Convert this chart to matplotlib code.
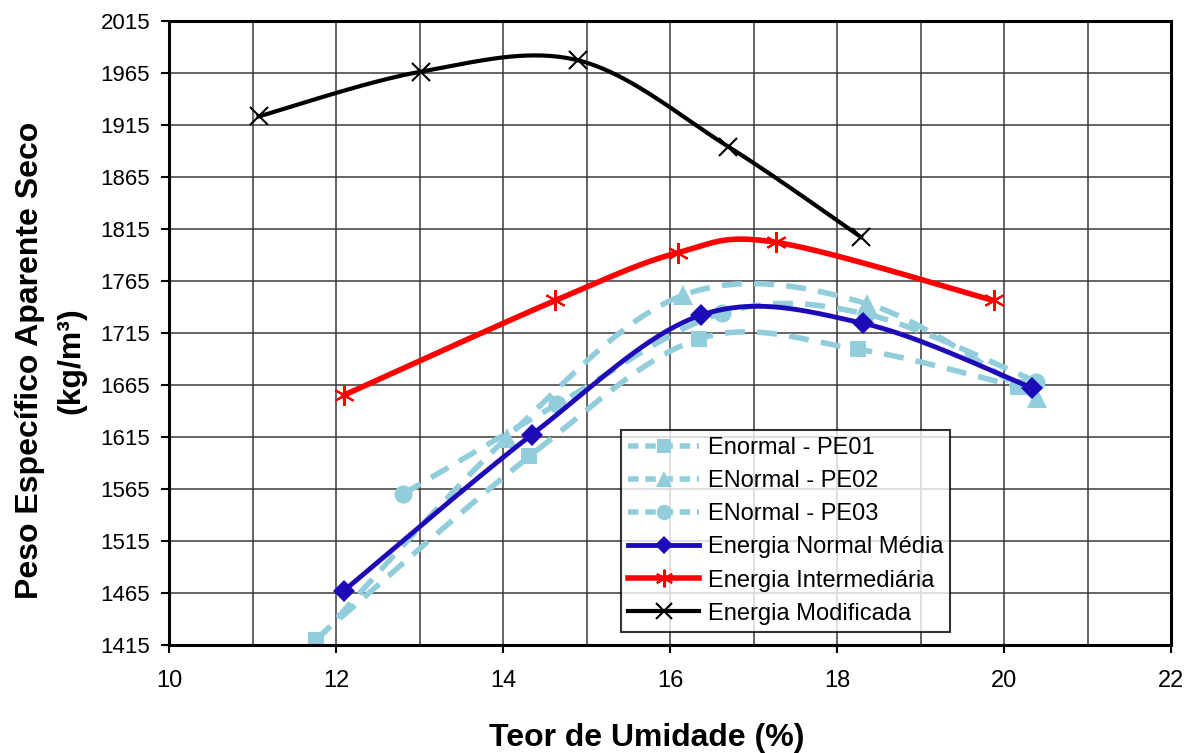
import numpy as np
import matplotlib
matplotlib.use("Agg")
import matplotlib.pyplot as plt
from matplotlib.lines import Line2D
from matplotlib.ticker import MultipleLocator, FixedLocator

plt.rcParams['font.family'] = ['Liberation Sans', 'DejaVu Sans']

# ---------------- data ----------------
x_pe01 = [11.75, 14.31, 16.34, 18.25, 20.16]
y_pe01 = [1420, 1596, 1709, 1699, 1663]
x_pe02 = [11.75, 14.04, 16.15, 18.35, 20.39]
y_pe02 = [1418, 1614, 1751, 1743, 1652]
x_pe03 = [12.80, 14.64, 16.62, 18.34, 20.38]
y_pe03 = [1560, 1646, 1734, 1733, 1668]
x_med = [12.09, 14.34, 16.37, 18.31, 20.33]
y_med = [1467, 1617, 1732, 1724, 1662]
x_int = [12.09, 14.62, 16.09, 17.26, 19.87]
y_int = [1655, 1746, 1792, 1802, 1746]
x_mod = [11.07, 13.01, 14.89, 16.69, 18.28]
y_mod = [1923, 1966, 1977, 1894, 1807]

labels = ["Enormal - PE01", "ENormal - PE02", "ENormal - PE03",
          "Energia Normal Média", "Energia Intermediária", "Energia Modificada"]
x_ticks = [10, 12, 14, 16, 18, 20, 22]
y_ticks = [1415, 1465, 1515, 1565, 1615, 1665, 1715, 1765, 1815, 1865, 1915, 1965, 2015]


def smooth(x, y, n=40):
    P = np.column_stack([x, y]).astype(float)
    E = np.vstack([P[0], P, P[-1]])
    out = []
    t = np.linspace(0, 1, n)[:, None]
    for i in range(len(P) - 1):
        p0, p1, p2, p3 = E[i], E[i + 1], E[i + 2], E[i + 3]
        c1 = p1 + (p2 - p0) / 6.0
        c2 = p2 - (p3 - p1) / 6.0
        seg = ((1 - t) ** 3) * p1 + 3 * ((1 - t) ** 2) * t * c1 + 3 * (1 - t) * t ** 2 * c2 + t ** 3 * p2
        out.append(seg if i == 0 else seg[1:])
    S = np.vstack(out)
    return S[:, 0], S[:, 1]


fig = plt.figure(figsize=(11.96, 7.53), dpi=100)
ax = fig.add_axes([0.1417, 0.1438, 0.9795 - 0.1417, 0.9725 - 0.1438])

light = '#92CDDC'
blue = '#1E0BB8'
red = '#FF0000'

series = [
    dict(x=x_pe01, y=y_pe01, color=light, ls='--', lw=4.0, marker='s', ms=12, mew=0, z=3),
    dict(x=x_pe02, y=y_pe02, color=light, ls='--', lw=4.0, marker='^', ms=14, mew=0, z=3),
    dict(x=x_pe03, y=y_pe03, color=light, ls='--', lw=4.0, marker='o', ms=13, mew=0, z=3),
    dict(x=x_med, y=y_med, color=blue, ls='-', lw=3.5, marker='D', ms=11, mew=0, z=4),
    dict(x=x_int, y=y_int, color=red, ls='-', lw=4.0, marker=(6, 2, 0), ms=15, mew=1.5, z=5),
    dict(x=x_mod, y=y_mod, color='black', ls='-', lw=3.0, marker='x', ms=13, mew=1.5, z=6),
]

handles = []
for s, lab in zip(series, labels):
    sx, sy = smooth(s['x'], s['y'])
    kw = dict(color=s['color'], lw=s['lw'], ls=s['ls'], zorder=s['z'])
    if s['ls'] == '--':
        kw['dashes'] = (3.6, 2.2)
    ax.plot(sx, sy, **kw)
    ax.plot(s['x'], s['y'], ls='none', marker=s['marker'], ms=s['ms'],
            color=s['color'], mec=s['color'], mew=s['mew'], zorder=s['z'] + 0.5)
    h = Line2D([0], [0], color=s['color'], lw=s['lw'], ls=s['ls'], marker=s['marker'],
               ms=s['ms'] * 0.85, mec=s['color'], mew=s['mew'])
    if s['ls'] == '--':
        h.set_dashes((1.9, 1.2))
    handles.append(h)

ax.set_xlim(10, 22)
ax.set_ylim(1415, 2015)
ax.xaxis.set_major_locator(FixedLocator(x_ticks))
ax.xaxis.set_minor_locator(MultipleLocator(1))
ax.yaxis.set_major_locator(FixedLocator(y_ticks))
ax.grid(True, which='major', color='#3a3a3a', lw=1.1, zorder=1)
ax.grid(True, which='minor', axis='x', color='#3a3a3a', lw=1.1, zorder=1)
ax.set_axisbelow(True)

for sp in ax.spines.values():
    sp.set_linewidth(2.2)
    sp.set_zorder(7)

ax.tick_params(axis='both', which='major', direction='out', length=6, width=1.5)
ax.tick_params(axis='x', which='minor', length=0)
ax.tick_params(axis='y', pad=8, labelsize=16)
ax.tick_params(axis='x', pad=12, labelsize=17)

ax.set_xlabel("Teor de Umidade (%)", fontsize=23, fontweight='bold')
ax.xaxis.set_label_coords(0.4765, -0.126)
ax.set_ylabel("Peso Específico Aparente Seco\n(kg/m³)", fontsize=23, fontweight='bold',
              linespacing=1.5)
ax.yaxis.set_label_coords(-0.083, 0.455)

leg = ax.legend(handles, labels, loc='upper left', bbox_to_anchor=(0.451, 0.344),
                fontsize=17, frameon=True, fancybox=False, edgecolor='black',
                borderpad=0.3, labelspacing=0.47, handlelength=3.0, handletextpad=0.35,
                borderaxespad=0.0)
leg.get_frame().set_linewidth(1.5)
leg.set_zorder(10)

fig.savefig("out.png", dpi=100, facecolor='white')
